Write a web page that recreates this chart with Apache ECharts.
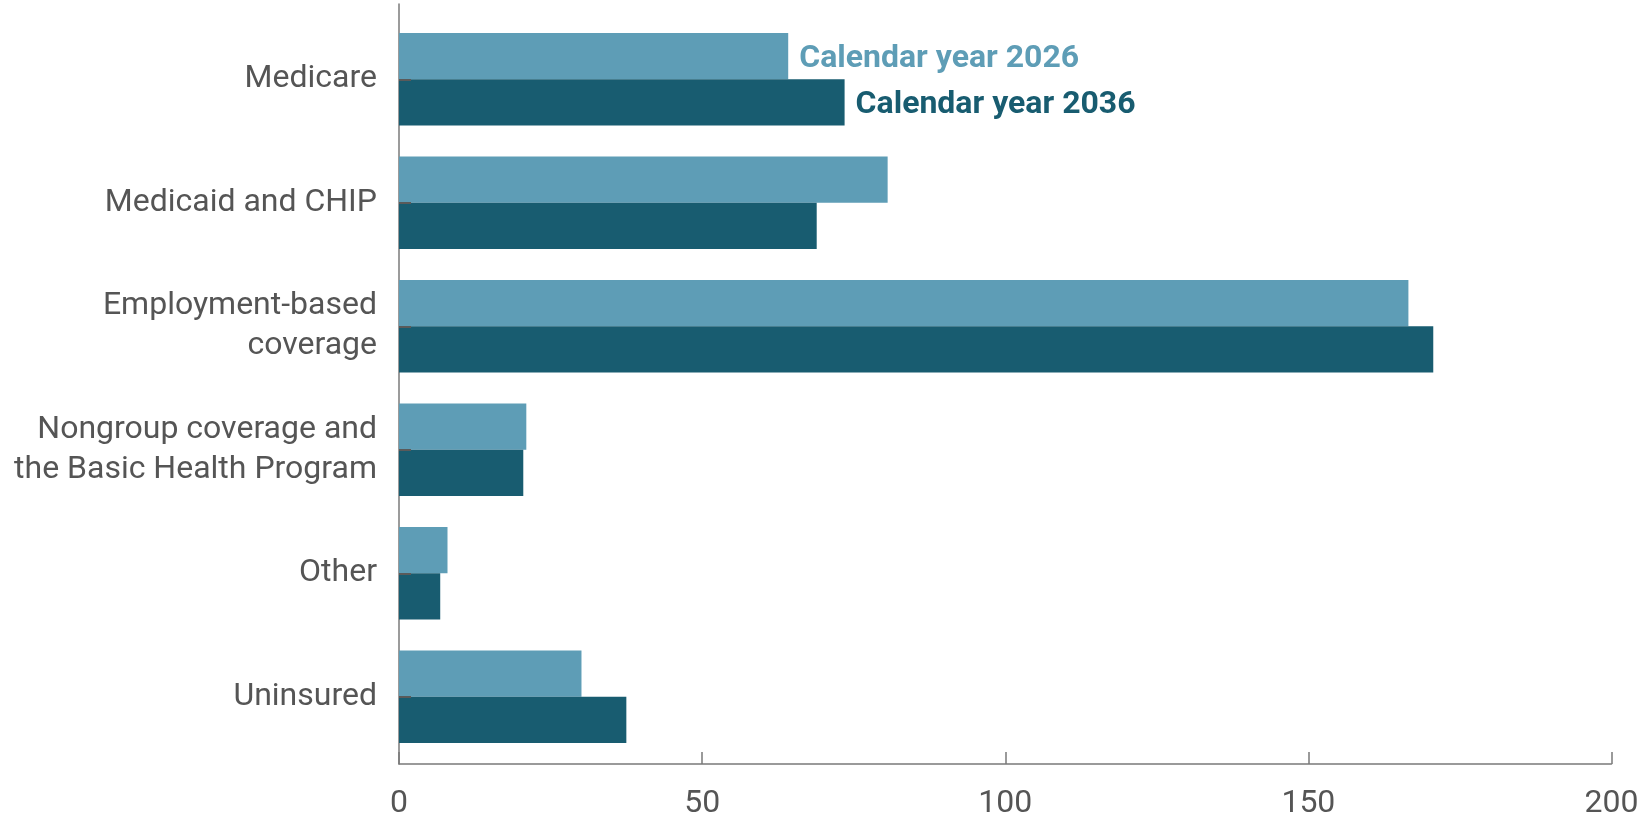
<!DOCTYPE html>
<html>
<head>
<meta charset="utf-8">
<script src="https://cdn.jsdelivr.net/npm/echarts@6/dist/echarts.min.js"></script>
<style>
  html, body { margin: 0; padding: 0; background: #ffffff; }
  #chart { width: 1642px; height: 820px; }
</style>
</head>
<body>
<div id="chart"></div>
<script>
// Health insurance coverage by source, millions of people
const categories = [
  'Medicare',
  'Medicaid and CHIP',
  'Employment-based\ncoverage',
  'Nongroup coverage and\nthe Basic Health Program',
  'Other',
  'Uninsured'
];
const seriesNames = ['Calendar year 2026', 'Calendar year 2036'];
const values2026 = [64.2, 80.6, 166.5, 21.0, 8.0, 30.1];
const values2036 = [73.5, 68.9, 170.6, 20.5, 6.8, 37.5];
const xTicks = [0, 50, 100, 150, 200];

const colors = ['#5e9db6', '#185c70'];
const textGray = '#555555';
const axisGray = '#7a7a7a';
const fontFamily = 'Roboto, "Liberation Sans", sans-serif';

// Series names are written beside the first category's bars
function withNameLabel(values, color, name) {
  return values.map((v, i) => i === 0 ? {
    value: v,
    label: {
      show: true,
      position: 'right',
      distance: 11,
      offset: [0, 3],
      formatter: name,
      color: color,
      fontFamily: fontFamily,
      fontWeight: 'bold',
      fontSize: 32
    }
  } : v);
}

const chart = echarts.init(document.getElementById('chart'), null, { renderer: 'canvas' });

chart.setOption({
  backgroundColor: '#ffffff',
  animation: false,
  grid: [
    // bars
    { left: 399, right: 30.5, top: 17.5, bottom: 61.5 },
    // frame: axis lines and value labels
    { left: 399, right: 30.5, top: 4, bottom: 50 }
  ],
  xAxis: [
    { gridIndex: 0, type: 'value', min: xTicks[0], max: xTicks[xTicks.length - 1], interval: 50, show: false },
    {
      gridIndex: 1, type: 'value', min: xTicks[0], max: xTicks[xTicks.length - 1], interval: 50,
      axisLine: { show: true, lineStyle: { color: axisGray, width: 1.5 } },
      axisTick: { show: true, inside: true, length: 12, lineStyle: { color: axisGray, width: 1.5 } },
      splitLine: { show: false },
      axisLabel: {
        color: textGray, fontFamily: fontFamily, fontSize: 32, margin: 24,
        formatter: v => xTicks.includes(v) ? String(v) : ''
      }
    }
  ],
  yAxis: [
    {
      gridIndex: 0, type: 'category', data: categories, inverse: true, z: 3,
      axisLine: { show: false },
      axisTick: { show: true, inside: true, alignWithLabel: true, length: 12, lineStyle: { color: '#5a5a5a', width: 2 } },
      axisLabel: {
        color: textGray, fontFamily: fontFamily, fontSize: 32, margin: 22,
        lineHeight: 40, align: 'right'
      }
    },
    {
      gridIndex: 1, type: 'value', min: 0, max: 1,
      axisLine: { show: true, lineStyle: { color: axisGray, width: 1.5 } },
      axisTick: { show: false }, axisLabel: { show: false }, splitLine: { show: false }
    }
  ],
  series: [
    {
      name: seriesNames[0], type: 'bar', xAxisIndex: 0, yAxisIndex: 0,
      data: withNameLabel(values2026, colors[0], seriesNames[0]),
      itemStyle: { color: colors[0] },
      barGap: '0%', barCategoryGap: '25%'
    },
    {
      name: seriesNames[1], type: 'bar', xAxisIndex: 0, yAxisIndex: 0,
      data: withNameLabel(values2036, colors[1], seriesNames[1]),
      itemStyle: { color: colors[1] },
      barGap: '0%', barCategoryGap: '25%'
    }
  ]
});
</script>
</body>
</html>
